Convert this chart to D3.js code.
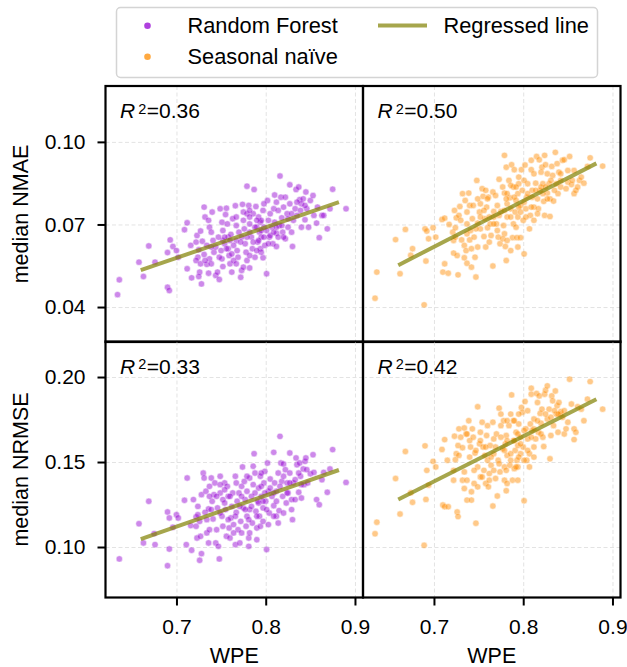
<!DOCTYPE html>
<html>
<head>
<meta charset="utf-8">
<script src="https://cdn.jsdelivr.net/npm/d3@7"></script>
<style>
  body { margin: 0; background: #fff; }
  text { font-family: "Liberation Sans", Arial, sans-serif; fill: #000; }
</style>
</head>
<body>
<div id="container"></div>
<script>
const wpeTicks = [0.7, 0.8, 0.9];
const nmaeTicks = [0.04, 0.07, 0.10];
const nrmseTicks = [0.10, 0.15, 0.20];

// [WPE, median NMAE] - Random Forest
const rfNmae = [[0.634,0.0445],[0.636,0.0499],[0.658,0.0563],[0.663,0.0511],[0.669,0.0622],[0.676,0.0563],[0.690,0.0472],[0.692,0.0460],[0.693,0.0644],[0.690,0.0598],[0.696,0.0620],[0.700,0.0605],[0.702,0.0581],[0.712,0.0706],[0.709,0.0681],[0.716,0.0624],[0.712,0.0539],[0.717,0.0506],[0.722,0.0636],[0.723,0.0660],[0.727,0.0676],[0.729,0.0639],[0.725,0.0608],[0.724,0.0581],[0.722,0.0569],[0.727,0.0557],[0.726,0.0527],[0.728,0.0484],[0.725,0.0511],[0.731,0.0763],[0.732,0.0727],[0.731,0.0591],[0.734,0.0555],[0.736,0.0523],[0.737,0.0575],[0.736,0.0715],[0.737,0.0690],[0.739,0.0672],[0.740,0.0745],[0.741,0.0642],[0.742,0.0599],[0.744,0.0515],[0.746,0.0527],[0.748,0.0500],[0.749,0.0757],[0.751,0.0708],[0.752,0.0678],[0.752,0.0642],[0.750,0.0605],[0.751,0.0575],[0.752,0.0547],[0.754,0.0630],[0.756,0.0759],[0.755,0.0736],[0.757,0.0702],[0.758,0.0654],[0.758,0.0612],[0.759,0.0587],[0.760,0.0557],[0.762,0.0527],[0.761,0.0664],[0.763,0.0721],[0.766,0.0768],[0.767,0.0696],[0.767,0.0642],[0.768,0.0605],[0.769,0.0581],[0.770,0.0672],[0.772,0.0508],[0.773,0.0533],[0.774,0.0773],[0.775,0.0745],[0.776,0.0684],[0.777,0.0630],[0.778,0.0599],[0.779,0.0569],[0.779,0.0839],[0.781,0.0769],[0.782,0.0542],[0.782,0.0702],[0.784,0.0654],[0.785,0.0612],[0.786,0.0739],[0.787,0.0827],[0.788,0.0581],[0.789,0.0765],[0.790,0.0690],[0.791,0.0636],[0.792,0.0727],[0.793,0.0672],[0.794,0.0612],[0.794,0.0708],[0.795,0.0654],[0.797,0.0579],[0.797,0.0751],[0.798,0.0690],[0.799,0.0624],[0.801,0.0521],[0.802,0.0787],[0.803,0.0715],[0.804,0.0654],[0.805,0.0739],[0.807,0.0690],[0.808,0.0630],[0.809,0.0757],[0.810,0.0807],[0.810,0.0708],[0.812,0.0668],[0.812,0.0620],[0.814,0.0751],[0.815,0.0696],[0.816,0.0876],[0.817,0.0799],[0.818,0.0724],[0.819,0.0672],[0.820,0.0763],[0.822,0.0799],[0.822,0.0648],[0.824,0.0739],[0.825,0.0690],[0.827,0.0844],[0.827,0.0775],[0.829,0.0672],[0.830,0.0620],[0.831,0.0715],[0.833,0.0757],[0.834,0.0827],[0.837,0.0836],[0.838,0.0790],[0.839,0.0751],[0.840,0.0690],[0.842,0.0793],[0.844,0.0717],[0.845,0.0818],[0.846,0.0757],[0.848,0.0690],[0.850,0.0787],[0.853,0.0805],[0.854,0.0733],[0.857,0.0705],[0.858,0.0763],[0.860,0.0652],[0.863,0.0733],[0.865,0.0733],[0.869,0.0684],[0.872,0.0757],[0.875,0.0828],[0.890,0.0757],
  [0.782,0.0672],[0.786,0.0636],[0.792,0.0642],[0.795,0.0715],[0.801,0.0678],[0.805,0.0660],[0.790,0.0715],[0.779,0.0654],[0.773,0.0654],[0.764,0.0624],[0.760,0.0642],[0.754,0.0654],[0.747,0.0654],[0.744,0.0618],[0.739,0.0618],[0.734,0.0624],[0.767,0.0727],[0.775,0.0715],[0.779,0.0739],[0.782,0.0727],[0.788,0.0690],[0.795,0.0678],[0.798,0.0654],[0.803,0.0630],[0.809,0.0672],[0.812,0.0690],[0.814,0.0654],[0.818,0.0696],[0.820,0.0654],[0.825,0.0721],[0.829,0.0739],[0.835,0.0733],[0.840,0.0775],[0.844,0.0769],[0.835,0.0781],[0.812,0.0781],[0.798,0.0775],[0.782,0.0751],[0.772,0.0636],[0.764,0.0569],[0.756,0.0612],[0.748,0.0581],[0.739,0.0557],[0.732,0.0569],[0.795,0.0599],[0.790,0.0605],[0.782,0.0587],[0.775,0.0545],[0.767,0.0557],[0.762,0.0593]];

// [WPE, median NMAE] - Seasonal naive
const snNmae = [[0.634,0.0432],[0.636,0.0527],[0.657,0.0645],[0.662,0.0521],[0.668,0.0682],[0.676,0.0612],[0.674,0.0588],[0.689,0.0408],[0.690,0.0684],[0.691,0.0567],[0.692,0.0676],[0.694,0.0648],[0.699,0.0688],[0.702,0.0654],[0.709,0.0718],[0.712,0.0723],[0.710,0.0527],[0.712,0.0557],[0.716,0.0523],[0.717,0.0700],[0.721,0.0672],[0.723,0.0751],[0.724,0.0688],[0.725,0.0724],[0.722,0.0642],[0.722,0.0596],[0.726,0.0587],[0.727,0.0517],[0.728,0.0733],[0.729,0.0765],[0.731,0.0644],[0.732,0.0812],[0.734,0.0624],[0.734,0.0579],[0.735,0.0787],[0.736,0.0605],[0.737,0.0559],[0.737,0.0745],[0.739,0.0814],[0.740,0.0644],[0.740,0.0769],[0.742,0.0545],[0.742,0.0612],[0.743,0.0721],[0.744,0.0769],[0.745,0.0654],[0.746,0.0581],[0.747,0.0509],[0.748,0.0860],[0.749,0.0705],[0.749,0.0618],[0.751,0.0745],[0.752,0.0684],[0.752,0.0775],[0.754,0.0830],[0.755,0.0802],[0.756,0.0656],[0.757,0.0721],[0.758,0.0618],[0.759,0.0763],[0.760,0.0688],[0.761,0.0799],[0.762,0.0636],[0.763,0.0702],[0.764,0.0660],[0.766,0.0549],[0.766,0.0818],[0.767,0.0747],[0.767,0.0727],[0.769,0.0805],[0.770,0.0702],[0.771,0.0769],[0.772,0.0654],[0.773,0.0864],[0.774,0.0630],[0.775,0.0747],[0.777,0.0836],[0.778,0.0696],[0.779,0.0666],[0.779,0.0951],[0.779,0.0814],[0.780,0.0620],[0.781,0.0569],[0.781,0.0908],[0.782,0.0775],[0.782,0.0727],[0.784,0.0860],[0.785,0.0797],[0.786,0.0757],[0.787,0.0917],[0.788,0.0652],[0.789,0.0702],[0.789,0.0836],[0.790,0.0899],[0.791,0.0745],[0.792,0.0787],[0.793,0.0652],[0.794,0.0727],[0.794,0.0812],[0.795,0.0848],[0.797,0.0769],[0.797,0.0652],[0.798,0.0899],[0.799,0.0824],[0.800,0.0715],[0.801,0.0593],[0.802,0.0916],[0.803,0.0757],[0.804,0.0799],[0.805,0.0848],[0.807,0.0684],[0.808,0.0733],[0.809,0.0899],[0.809,0.0933],[0.810,0.0824],[0.812,0.0763],[0.812,0.0715],[0.814,0.0850],[0.815,0.0947],[0.816,0.0793],[0.817,0.0757],[0.818,0.0935],[0.819,0.0824],[0.820,0.0890],[0.821,0.0908],[0.822,0.0848],[0.823,0.0784],[0.824,0.0733],[0.824,0.0951],[0.825,0.0917],[0.827,0.0814],[0.827,0.0884],[0.829,0.0848],[0.830,0.0729],[0.830,0.0793],[0.832,0.0911],[0.833,0.0878],[0.834,0.0785],[0.836,0.0962],[0.837,0.0848],[0.838,0.0921],[0.839,0.0812],[0.840,0.0890],[0.842,0.0836],[0.842,0.0860],[0.844,0.0933],[0.846,0.0935],[0.848,0.0830],[0.850,0.0854],[0.852,0.0947],[0.854,0.0845],[0.857,0.0896],[0.857,0.0812],[0.859,0.0824],[0.861,0.0836],[0.863,0.0860],[0.865,0.0872],[0.868,0.0850],[0.872,0.0911],[0.875,0.0942],[0.889,0.0912],
  [0.782,0.0812],[0.790,0.0799],[0.795,0.0763],[0.801,0.0781],[0.805,0.0812],[0.810,0.0799],[0.814,0.0824],[0.820,0.0836],[0.825,0.0836],[0.831,0.0860],[0.835,0.0824],[0.786,0.0727],[0.779,0.0751],[0.773,0.0733],[0.767,0.0702],[0.762,0.0727],[0.756,0.0751],[0.752,0.0727],[0.747,0.0684],[0.741,0.0678],[0.737,0.0702],[0.771,0.0678],[0.777,0.0648],[0.782,0.0642],[0.792,0.0690],[0.797,0.0745],[0.803,0.0727],[0.809,0.0763],[0.816,0.0739],[0.822,0.0812],[0.827,0.0793],[0.795,0.0872],[0.801,0.0860],[0.786,0.0842],[0.781,0.0793],[0.760,0.0793],[0.749,0.0793],[0.730,0.0715],[0.724,0.0654],[0.792,0.0836],[0.812,0.0884],[0.842,0.0884],[0.850,0.0896],[0.855,0.0860],[0.794,0.0618],[0.786,0.0605],[0.737,0.0666],[0.758,0.0824]];

// [WPE, median NRMSE] - Random Forest
const rfNrmse = [[0.636,0.0930],[0.658,0.1137],[0.663,0.1024],[0.669,0.1269],[0.675,0.1079],[0.676,0.1014],[0.690,0.1206],[0.692,0.1171],[0.690,0.0890],[0.692,0.0988],[0.696,0.1116],[0.700,0.1190],[0.702,0.1171],[0.709,0.1275],[0.712,0.1406],[0.711,0.1014],[0.717,0.0981],[0.716,0.1126],[0.722,0.1177],[0.722,0.1122],[0.724,0.1239],[0.723,0.1053],[0.726,0.1151],[0.727,0.1063],[0.728,0.0961],[0.726,0.0922],[0.728,0.1308],[0.730,0.1435],[0.731,0.1406],[0.732,0.1204],[0.733,0.1328],[0.734,0.1083],[0.736,0.1224],[0.736,0.1024],[0.737,0.1102],[0.737,0.1357],[0.739,0.1406],[0.740,0.1269],[0.741,0.1165],[0.742,0.1308],[0.743,0.1377],[0.744,0.1024],[0.745,0.1102],[0.746,0.1230],[0.747,0.1004],[0.748,0.0930],[0.749,0.1416],[0.749,0.1318],[0.751,0.1181],[0.752,0.1279],[0.752,0.1122],[0.754,0.1377],[0.755,0.1220],[0.756,0.1063],[0.757,0.1357],[0.758,0.1298],[0.759,0.1112],[0.760,0.1053],[0.761,0.1171],[0.762,0.1239],[0.763,0.1318],[0.764,0.1132],[0.766,0.1416],[0.766,0.1014],[0.767,0.1377],[0.767,0.1204],[0.768,0.1269],[0.769,0.1102],[0.770,0.1318],[0.771,0.1024],[0.772,0.1151],[0.773,0.1357],[0.774,0.1471],[0.775,0.1230],[0.776,0.1386],[0.777,0.1279],[0.778,0.1122],[0.779,0.1181],[0.779,0.1328],[0.781,0.1053],[0.781,0.1004],[0.782,0.1406],[0.782,0.1220],[0.784,0.1298],[0.785,0.1141],[0.786,0.1367],[0.787,0.1549],[0.788,0.1435],[0.789,0.1210],[0.790,0.1112],[0.791,0.1269],[0.792,0.1347],[0.793,0.1181],[0.794,0.1416],[0.794,0.1122],[0.795,0.1298],[0.797,0.1230],[0.797,0.1151],[0.798,0.1377],[0.799,0.1445],[0.800,0.1269],[0.801,0.0985],[0.802,0.1494],[0.803,0.1328],[0.804,0.1200],[0.805,0.1400],[0.807,0.1298],[0.809,0.1243],[0.809,0.1557],[0.810,0.1377],[0.812,0.1181],[0.812,0.1328],[0.814,0.1435],[0.815,0.1214],[0.816,0.1651],[0.817,0.1494],[0.818,0.1386],[0.819,0.1298],[0.820,0.1488],[0.822,0.1455],[0.823,0.1259],[0.824,0.1377],[0.825,0.1318],[0.827,0.1553],[0.827,0.1435],[0.829,0.1279],[0.830,0.1161],[0.831,0.1377],[0.833,0.1279],[0.834,0.1524],[0.835,0.1484],[0.837,0.1322],[0.838,0.1494],[0.839,0.1416],[0.840,0.1288],[0.842,0.1459],[0.843,0.1367],[0.844,0.1504],[0.845,0.1524],[0.847,0.1377],[0.850,0.1431],[0.853,0.1543],[0.854,0.1439],[0.857,0.1279],[0.860,0.1249],[0.863,0.1396],[0.865,0.1439],[0.869,0.1322],[0.872,0.1459],[0.875,0.1573],[0.890,0.1380],
  [0.773,0.1298],[0.777,0.1220],[0.781,0.1161],[0.784,0.1239],[0.788,0.1318],[0.792,0.1259],[0.795,0.1357],[0.799,0.1318],[0.801,0.1220],[0.805,0.1347],[0.809,0.1318],[0.812,0.1269],[0.816,0.1357],[0.820,0.1416],[0.824,0.1318],[0.827,0.1377],[0.833,0.1396],[0.837,0.1435],[0.840,0.1367],[0.846,0.1455],[0.771,0.1239],[0.766,0.1181],[0.760,0.1298],[0.754,0.1259],[0.749,0.1200],[0.745,0.1298],[0.739,0.1220],[0.734,0.1161],[0.758,0.1161],[0.764,0.1083],[0.773,0.1083],[0.782,0.1083],[0.790,0.1181],[0.797,0.1269],[0.803,0.1132],[0.809,0.1181],[0.795,0.1435],[0.786,0.1475],[0.779,0.1416],[0.754,0.1337],[0.749,0.1367],[0.737,0.1298],[0.724,0.1190],[0.719,0.1279],[0.820,0.1200],[0.829,0.1220],[0.814,0.1141],[0.790,0.1043]];

// [WPE, median NRMSE] - Seasonal naive
const snNrmse = [[0.634,0.1078],[0.636,0.1146],[0.657,0.1403],[0.662,0.1194],[0.668,0.1562],[0.676,0.1263],[0.674,0.1319],[0.689,0.1010],[0.690,0.1595],[0.691,0.1280],[0.692,0.1451],[0.694,0.1364],[0.699,0.1504],[0.702,0.1471],[0.709,0.1574],[0.712,0.1632],[0.710,0.1247],[0.712,0.1237],[0.716,0.1237],[0.715,0.1510],[0.722,0.1451],[0.723,0.1652],[0.725,0.1549],[0.724,0.1514],[0.726,0.1206],[0.727,0.1179],[0.727,0.1597],[0.728,0.1695],[0.730,0.1646],[0.732,0.1584],[0.732,0.1393],[0.734,0.1344],[0.734,0.1700],[0.734,0.1442],[0.736,0.1665],[0.737,0.1276],[0.737,0.1393],[0.739,0.1743],[0.740,0.1529],[0.740,0.1626],[0.742,0.1325],[0.742,0.1276],[0.743,0.1695],[0.744,0.1646],[0.745,0.1374],[0.746,0.1553],[0.747,0.1140],[0.749,0.1825],[0.749,0.1471],[0.751,0.1607],[0.752,0.1412],[0.752,0.1675],[0.754,0.1734],[0.755,0.1588],[0.756,0.1451],[0.757,0.1539],[0.758,0.1374],[0.759,0.1656],[0.760,0.1510],[0.761,0.1354],[0.762,0.1432],[0.763,0.1597],[0.764,0.1481],[0.766,0.1241],[0.766,0.1734],[0.767,0.1549],[0.767,0.1636],[0.769,0.1403],[0.770,0.1665],[0.771,0.1300],[0.772,0.1510],[0.773,0.1817],[0.774,0.1442],[0.775,0.1714],[0.777,0.1578],[0.778,0.1743],[0.779,0.1471],[0.779,0.1393],[0.780,0.1607],[0.781,0.1331],[0.781,0.1656],[0.782,0.1539],[0.784,0.1714],[0.785,0.1481],[0.786,0.1782],[0.787,0.1895],[0.788,0.1393],[0.789,0.1626],[0.789,0.1743],[0.790,0.1461],[0.791,0.1568],[0.792,0.1675],[0.793,0.1510],[0.794,0.1597],[0.794,0.1471],[0.795,0.1724],[0.797,0.1646],[0.797,0.1549],[0.798,0.1821],[0.799,0.1792],[0.800,0.1588],[0.801,0.1272],[0.802,0.1856],[0.803,0.1695],[0.804,0.1510],[0.805,0.1636],[0.807,0.1549],[0.808,0.1724],[0.809,0.1899],[0.809,0.1934],[0.810,0.1685],[0.812,0.1753],[0.812,0.1588],[0.814,0.1636],[0.815,0.1903],[0.816,0.1850],[0.817,0.1675],[0.818,0.1889],[0.819,0.1786],[0.820,0.1728],[0.821,0.1811],[0.822,0.1646],[0.823,0.1591],[0.824,0.1899],[0.825,0.1922],[0.827,0.1948],[0.827,0.1753],[0.829,0.1811],[0.830,0.1519],[0.831,0.1656],[0.832,0.1889],[0.833,0.1860],[0.834,0.1714],[0.836,0.1918],[0.837,0.1782],[0.838,0.1831],[0.839,0.1675],[0.840,0.1850],[0.842,0.1782],[0.842,0.1796],[0.844,0.1763],[0.846,0.1665],[0.848,0.1695],[0.850,0.1734],[0.852,0.1987],[0.854,0.1841],[0.857,0.1632],[0.857,0.1695],[0.859,0.1675],[0.861,0.1825],[0.865,0.1811],[0.868,0.1743],[0.872,0.1870],[0.875,0.1973],[0.889,0.1811],
  [0.775,0.1646],[0.779,0.1568],[0.782,0.1626],[0.786,0.1549],[0.790,0.1626],[0.794,0.1665],[0.797,0.1607],[0.801,0.1685],[0.805,0.1568],[0.809,0.1646],[0.812,0.1695],[0.816,0.1743],[0.820,0.1665],[0.825,0.1782],[0.831,0.1763],[0.835,0.1802],[0.839,0.1782],[0.769,0.1588],[0.764,0.1529],[0.758,0.1588],[0.752,0.1626],[0.747,0.1568],[0.741,0.1588],[0.737,0.1665],[0.773,0.1490],[0.781,0.1451],[0.786,0.1510],[0.792,0.1471],[0.795,0.1529],[0.801,0.1510],[0.807,0.1471],[0.812,0.1529],[0.767,0.1451],[0.762,0.1393],[0.754,0.1412],[0.749,0.1354],[0.745,0.1451],[0.790,0.1743],[0.795,0.1782],[0.805,0.1802],[0.782,0.1743],[0.775,0.1782],[0.760,0.1714],[0.728,0.1539],[0.722,0.1393],[0.782,0.1374],[0.794,0.1393],[0.846,0.1802]];

// regressed line end points
const lineX = [0.66, 0.882];
const rfNmaeLine = [0.0534, 0.0781];
const snNmaeLine = [0.0552, 0.0922];
const rfNrmseLine = [0.1047, 0.1453];
const snNrmseLine = [0.128, 0.1869];

const r2Values = ["0.36", "0.50", "0.33", "0.42"];
const seriesNames = ["Random Forest", "Seasonal naïve"];

const rfColor = "#9400d3";
const snColor = "#ff8c00";
const lineColor = "#808000";

const W = 627, H = 667;
const panelX = [105.5, 363];
const panelY = [86, 341.5];
const pw = 257.5, ph = 256;

const svg = d3.select("#container").append("svg")
  .attr("width", W).attr("height", H);

const x = d3.scaleLinear().domain([0.6205, 0.909]).range([0, pw]);
const yTop = d3.scaleLinear().domain([0.0273, 0.1203]).range([ph, 0]);
const yBot = d3.scaleLinear().domain([0.0703, 0.2209]).range([ph, 0]);

const panels = [
  { row: 0, col: 0, data: rfNmae, line: rfNmaeLine, r2: r2Values[0], color: rfColor, y: yTop, ticks: nmaeTicks, label: "median NMAE" },
  { row: 0, col: 1, data: snNmae, line: snNmaeLine, r2: r2Values[1], color: snColor, y: yTop, ticks: nmaeTicks },
  { row: 1, col: 0, data: rfNrmse, line: rfNrmseLine, r2: r2Values[2], color: rfColor, y: yBot, ticks: nrmseTicks, label: "median NRMSE" },
  { row: 1, col: 1, data: snNrmse, line: snNrmseLine, r2: r2Values[3], color: snColor, y: yBot, ticks: nrmseTicks }
];

panels.forEach(p => {
  const g = svg.append("g")
    .attr("transform", `translate(${panelX[p.col]},${panelY[p.row]})`);
  const y = p.y;

  // dashed grid
  g.append("g").attr("class", "grid")
    .call(d3.axisBottom(x).tickValues(wpeTicks).tickSize(ph).tickFormat(""));
  g.append("g").attr("class", "grid")
    .call(d3.axisLeft(y).tickValues(p.ticks).tickSize(-pw).tickFormat(""));
  g.selectAll(".grid .domain").remove();
  g.selectAll(".grid line")
    .attr("stroke", "#e3e3e3")
    .attr("stroke-width", 1)
    .attr("stroke-dasharray", "4,2.5");

  // points
  g.append("g").selectAll("circle")
    .data(p.data)
    .enter().append("circle")
    .attr("cx", d => x(d[0]))
    .attr("cy", d => y(d[1]))
    .attr("r", 3.2)
    .attr("fill", p.color)
    .attr("stroke", "#fff")
    .attr("stroke-width", 0.5)
    .attr("opacity", 0.46);

  // regressed line
  g.append("path")
    .datum(lineX.map((v, i) => [v, p.line[i]]))
    .attr("fill", "none")
    .attr("stroke", lineColor)
    .attr("stroke-opacity", 0.7)
    .attr("stroke-width", 4)
    .attr("d", d3.line().x(d => x(d[0])).y(d => y(d[1])));

  // R^2 label
  const t = g.append("text")
    .attr("x", 14.5)
    .attr("y", 32)
    .style("font-size", "21px");
  t.append("tspan").style("font-style", "italic").text("R");
  t.append("tspan").attr("dx", 3).attr("dy", -4.5).style("font-size", "14.5px").text("2");
  t.append("tspan").attr("dx", 0.5).attr("dy", 4.5).text("=" + p.r2);

  // frame
  g.append("rect")
    .attr("width", pw).attr("height", ph)
    .attr("fill", "none")
    .attr("stroke", "#000")
    .attr("stroke-width", 2.2);

  // outer axes
  if (p.col === 0) {
    const ay = g.append("g")
      .call(d3.axisLeft(y).tickValues(p.ticks).tickFormat(d3.format(".2f")).tickSize(8).tickPadding(12));
    ay.select(".domain").remove();
    ay.selectAll("line").attr("stroke-width", 2);
    ay.selectAll("text").style("font-size", "21px").attr("font-family", null);
    svg.append("text")
      .attr("transform", `translate(28,${panelY[p.row] + ph / 2}) rotate(-90)`)
      .attr("text-anchor", "middle")
      .style("font-size", "21.5px")
      .text(p.label);
  }
  if (p.row === 1) {
    const ax = g.append("g")
      .attr("transform", `translate(0,${ph})`)
      .call(d3.axisBottom(x).tickValues(wpeTicks).tickFormat(d3.format(".1f")).tickSize(8).tickPadding(14));
    ax.select(".domain").remove();
    ax.selectAll("line").attr("stroke-width", 2);
    ax.selectAll("text").style("font-size", "21px").attr("font-family", null);
    g.append("text")
      .attr("x", pw / 2)
      .attr("y", ph + 65.5)
      .attr("text-anchor", "middle")
      .style("font-size", "21.5px")
      .text("WPE");
  }
});

// legend
const lg = svg.append("g");
lg.append("rect")
  .attr("x", 116.5).attr("y", 7.5)
  .attr("width", 481).attr("height", 70)
  .attr("rx", 4)
  .attr("fill", "#fff")
  .attr("stroke", "#d4d4d4")
  .attr("stroke-width", 1.5);

[rfColor, snColor].forEach((c, i) => {
  lg.append("circle")
    .attr("cx", 147.5).attr("cy", 25.7 + i * 31)
    .attr("r", 3.3)
    .attr("fill", c)
    .attr("opacity", 0.75);
  lg.append("text")
    .attr("x", 187.5).attr("y", 32.5 + i * 31)
    .style("font-size", "21.8px")
    .text(seriesNames[i]);
});
lg.append("line")
  .attr("x1", 378).attr("x2", 427)
  .attr("y1", 25.5).attr("y2", 25.5)
  .attr("stroke", lineColor)
  .attr("stroke-opacity", 0.7)
  .attr("stroke-width", 4);
lg.append("text")
  .attr("x", 443.5).attr("y", 32.5)
  .style("font-size", "21.8px")
  .text("Regressed line");
</script>
</body>
</html>
